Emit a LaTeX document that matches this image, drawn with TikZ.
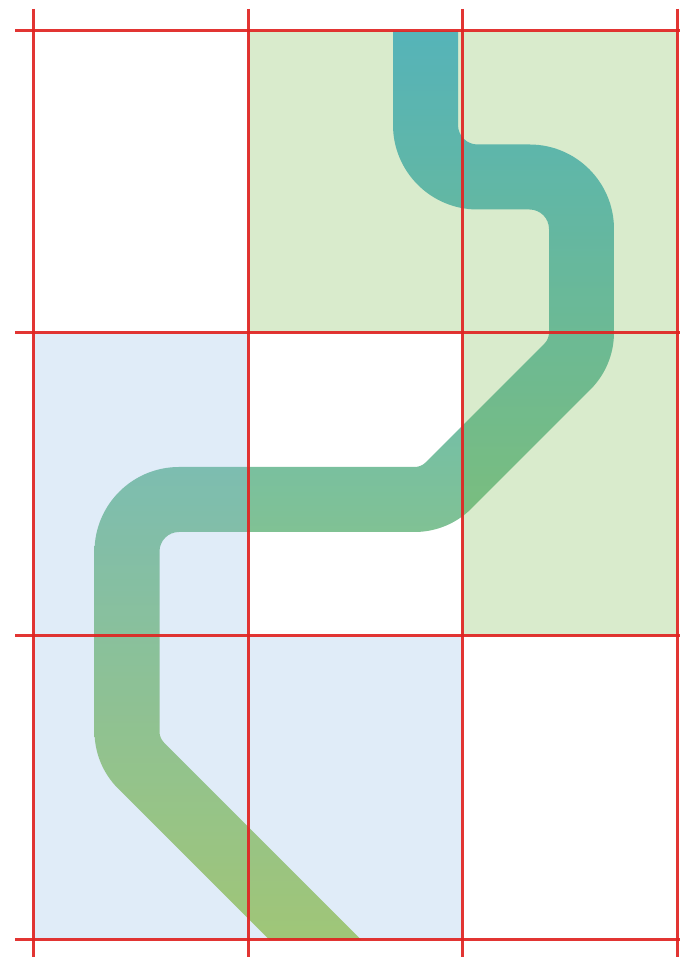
\documentclass[tikz,border=0pt]{standalone}
\definecolor{cellgreen}{RGB}{109,178,59}
\definecolor{cellblue}{RGB}{136,182,228}
\definecolor{pathtop}{RGB}{78,181,229}
\definecolor{pathbot}{RGB}{169,204,82}
\definecolor{gridred}{RGB}{224,36,34}
\tikzset{
  gridline/.style={draw=gridred, line width=3pt, draw opacity=0.92},
  routefill/.style={top color=pathtop, bottom color=pathbot},
  cell/.style={fill opacity=0.26},
}
\begin{document}
\begin{tikzpicture}[x=1pt,y=1pt]
  \useasboundingbox (0,0) rectangle (680,957);
  \fill[white] (0,0) rectangle (680,957);
  % route: outline of a 65pt wide band, filled with a vertical gradient
  \begin{scope}
    \clip (393,926) -- (393,832) arc[start angle=180,end angle=270,radius=84.5]
      -- (529.5,747.5) arc[start angle=90,end angle=0,radius=19.5]
      -- (549,624.38) arc[start angle=0,end angle=-45,radius=15.5]
      -- (425.58,494.54) arc[start angle=315,end angle=270,radius=15.5]
      -- (179,490) arc[start angle=90,end angle=180,radius=84.5]
      -- (94.5,225.38) arc[start angle=180,end angle=225,radius=80.5]
      -- (269.54,17) -- (361.46,17)
      -- (164.04,214.42) arc[start angle=225,end angle=180,radius=15.5]
      -- (159.5,405.5) arc[start angle=180,end angle=90,radius=19.5]
      -- (414.62,425) arc[start angle=270,end angle=315,radius=80.5]
      -- (590.42,567.46) arc[start angle=-45,end angle=0,radius=80.5]
      -- (614,728) arc[start angle=0,end angle=90,radius=84.5]
      -- (477.5,812.5) arc[start angle=270,end angle=180,radius=19.5]
      -- (458,926) -- cycle;
    \shade[routefill] (0,17) rectangle (680,926);
  \end{scope}
  % translucent cell regions over the route
  \fill[cell, cellgreen] (248,926) -- (677,926) -- (677,321) -- (462,321) -- (462,624) -- (248,624) -- cycle;
  \fill[cell, cellblue] (33,624) -- (248,624) -- (248,321) -- (462,321) -- (462,17) -- (33,17) -- cycle;
  % grid
  \draw[gridline] (33,948) -- (33,0);
  \draw[gridline] (248,948) -- (248,0);
  \draw[gridline] (462,948) -- (462,0);
  \draw[gridline] (677,948) -- (677,0);
  \draw[gridline] (15,926) -- (680,926);
  \draw[gridline] (15,624) -- (680,624);
  \draw[gridline] (15,321) -- (680,321);
  \draw[gridline] (15,17) -- (680,17);
\end{tikzpicture}
\end{document}
